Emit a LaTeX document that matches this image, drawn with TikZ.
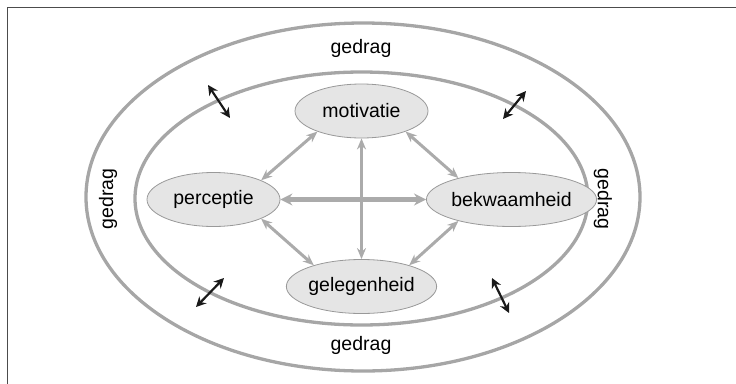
\documentclass[tikz,border=0pt]{standalone}
\usepackage{fontspec}
\setmainfont{Liberation Sans}
\usetikzlibrary{shapes.geometric,arrows.meta}

\begin{document}
\begin{tikzpicture}[x=1pt,y=-1pt,
  factor/.style={ellipse,draw=black!40,line width=0.8pt,fill=black!10,minimum width=133pt,minimum height=54pt,inner sep=0pt,font=\fontsize{19.5}{22}\selectfont},
  word/.style={font=\fontsize{19.5}{22}\selectfont},
  ring/.style={draw=black!35,line width=3.3pt},
  link/.style={<->,>={Stealth[length=11pt,width=9pt]},draw=black!33,line width=3pt},
  thicklink/.style={link,line width=5pt,>={Stealth[length=12pt,width=12pt]}},
  ptr/.style={<->,>={Stealth[length=10pt,width=10pt]},draw=black!90,line width=2.2pt}]
\useasboundingbox (0,0) rectangle (736,383);
\draw[black!70,line width=1pt] (7,395) |- (750,7);
% rings
\draw[ring] (363,197) ellipse [x radius=277, y radius=174];
\draw[ring] (361.5,198.5) ellipse [x radius=226.5, y radius=126.5];
\node[word] (gtop) at (361,48) {gedrag};
\node[word] (gbot) at (361,345) {gedrag};
\node[word,rotate=90] (gleft) at (108,199) {gedrag};
\node[word,rotate=-90] (gright) at (603,199) {gedrag};
% factors
\node[factor] (motivatie) at (361.5,111) {motivatie};
\node[factor] (perceptie) at (213.5,199.5) {perceptie};
\node[factor] (bekwaamheid) at (511.5,199.5) {bekwaamheid};
\node[factor] (gelegenheid) at (361.5,286.5) {gelegenheid};
\draw[link] (motivatie.205) -- (perceptie.22);
\draw[link] (motivatie.335) -- (bekwaamheid.158);
\draw[link] (perceptie.338) -- (gelegenheid.156);
\draw[link] (bekwaamheid.202) -- (gelegenheid.24);
\draw[link] (motivatie) -- (gelegenheid);
\draw[thicklink] (perceptie) -- (bekwaamheid);
% across the inner ring
\coordinate (tl1) at (208,85);
\coordinate (tl2) at (230,118);
\coordinate (tr1) at (526,91);
\coordinate (tr2) at (503,119);
\coordinate (bl1) at (224,278);
\coordinate (bl2) at (196,307);
\coordinate (br1) at (492,278);
\coordinate (br2) at (509,313);
\draw[ptr] (tl1) -- (tl2);
\draw[ptr] (tr1) -- (tr2);
\draw[ptr] (bl1) -- (bl2);
\draw[ptr] (br1) -- (br2);
\end{tikzpicture}
\end{document}
